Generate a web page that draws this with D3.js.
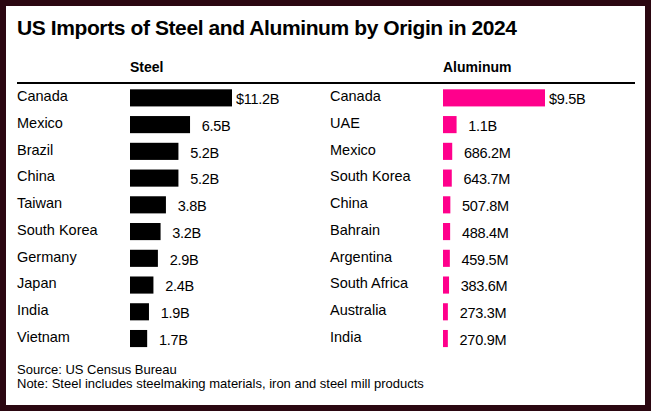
<!DOCTYPE html>
<html>
<head>
<meta charset="utf-8">
<script src="https://cdn.jsdelivr.net/npm/d3@7"></script>
<style>
  html, body { margin: 0; padding: 0; background: #2b0711; }
  svg { display: block; font-family: "Liberation Sans", Arial, sans-serif; }
</style>
</head>
<body>
<div id="container"></div>
<script>
const width = 651,
  height = 411;

// steel, $ billions
const steelCountries = ["Canada", "Mexico", "Brazil", "China", "Taiwan", "South Korea", "Germany", "Japan", "India", "Vietnam"];
const steelValues = [11.2, 6.5, 5.2, 5.2, 3.8, 3.2, 2.9, 2.4, 1.9, 1.7];
const steelLabels = ["11.2B", "6.5B", "5.2B", "5.2B", "3.8B", "3.2B", "2.9B", "2.4B", "1.9B", "1.7B"];

// aluminum, $ billions
const aluCountries = ["Canada", "UAE", "Mexico", "South Korea", "China", "Bahrain", "Argentina", "South Africa", "Australia", "India"];
const aluValues = [9.5, 1.1, 0.6862, 0.6437, 0.5078, 0.4884, 0.4595, 0.3836, 0.2733, 0.2709];
const aluLabels = ["9.5B", "1.1B", "686.2M", "643.7M", "507.8M", "488.4M", "459.5M", "383.6M", "273.3M", "270.9M"];

const svg = d3.select("#container").append("svg")
  .attr("width", width)
  .attr("height", height)

// white card inside the dark frame
svg.append("rect")
  .attr("x", 6)
  .attr("y", 6)
  .attr("width", width - 12)
  .attr("height", height - 12)
  .attr("fill", "#fff")

svg.append("text")
  .attr("x", 17)
  .attr("y", 35)
  .style("font-size", "21px")
  .style("font-weight", "bold")
  .style("letter-spacing", "-0.4px")
  .attr("fill", "#000")
  .text("US Imports of Steel and Aluminum by Origin in 2024")

// rule under the column headers
svg.append("rect")
  .attr("x", 17)
  .attr("y", 82)
  .attr("width", 618)
  .attr("height", 2)
  .attr("fill", "#000")

/* one panel per metal */
function panel(title, countries, values, labels, labelX, barX, color) {
  const yScale = d3.scaleBand()
    .domain(countries)
    .range([84.5, 84.5 + 26.74 * 10])
    .paddingInner(0.36)
    .paddingOuter(0.18)

  const wScale = d3.scaleLinear()
    .domain([0, d3.max(values)])
    .range([2, 102])

  const rows = countries.map((c, i) => ({ country: c, value: values[i], label: labels[i], i }))

  svg.append("text")
    .attr("x", barX)
    .attr("y", 72)
    .style("font-size", "14px")
    .style("font-weight", "bold")
    .text(title)

  const g = svg.append("g")

  g.selectAll("text.cat")
    .data(rows)
    .join("text")
    .attr("class", "cat")
    .attr("x", labelX)
    .attr("y", d => yScale(d.country) + 11.8)
    .style("font-size", "14.5px")
    .text(d => d.country)

  g.selectAll("rect.bar")
    .data(rows)
    .join("rect")
    .attr("class", "bar")
    .attr("x", barX)
    .attr("y", d => yScale(d.country))
    .attr("width", d => wScale(d.value))
    .attr("height", yScale.bandwidth())
    .attr("fill", color)

  const vals = g.selectAll("text.val")
    .data(rows)
    .join("text")
    .attr("class", "val")
    .attr("x", d => barX + wScale(d.value) + 4)
    .attr("y", d => yScale(d.country) + 14.8)
    .style("font-size", "14.5px")
    .style("letter-spacing", "-0.3px")

  // only the first value shows the "$", the rest keep its space
  vals.append("tspan")
    .attr("fill-opacity", d => d.i === 0 ? 1 : 0)
    .text("$")
  vals.append("tspan")
    .text(d => d.label)
}

panel("Steel", steelCountries, steelValues, steelLabels, 17, 130, "#000")
panel("Aluminum", aluCountries, aluValues, aluLabels, 330, 443, "#ff008c")

svg.append("text")
  .attr("x", 17)
  .attr("y", 374)
  .style("font-size", "13px")
  .text("Source: US Census Bureau")

svg.append("text")
  .attr("x", 17)
  .attr("y", 388)
  .style("font-size", "13px")
  .text("Note: Steel includes steelmaking materials, iron and steel mill products")
</script>
</body>
</html>
